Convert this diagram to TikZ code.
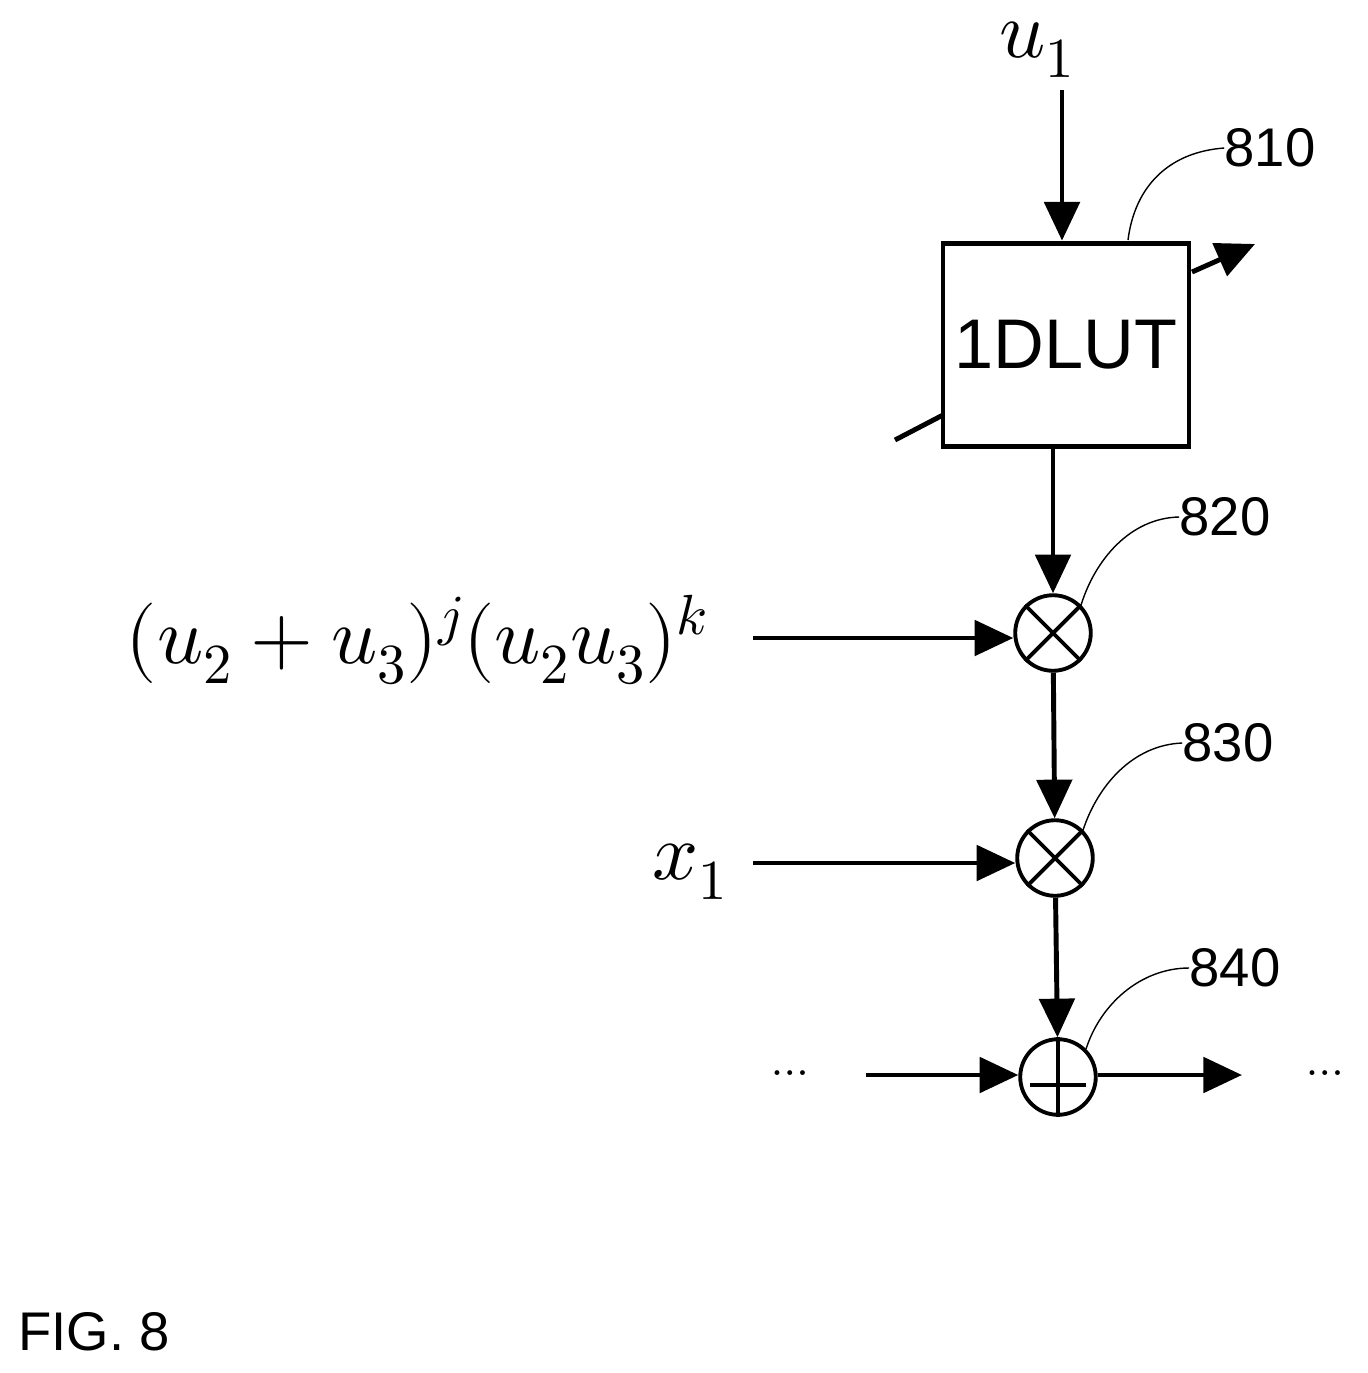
\documentclass[tikz,border=0pt]{standalone}
\usepackage{fontspec}
\setmainfont{Liberation Sans}
\usepackage{unicode-math}
\setmathfont{Latin Modern Math}
\usetikzlibrary{arrows.meta}
\begin{document}
\begin{tikzpicture}[x=0.02cm,y=-0.02cm,
  wire/.style={line width=2.8pt,-{Triangle[length=22pt,width=20pt]}},
  plain/.style={line width=2.8pt},
  lead/.style={line width=0.8pt},
  op/.style={circle,draw,line width=2.2pt,minimum size=43pt,inner sep=0pt},
  lab/.style={font=\fontsize{31}{31}\selectfont,inner sep=0pt},
  mlab/.style={font=\fontsize{46}{46}\selectfont,inner sep=0pt}]
\useasboundingbox (0,0) rectangle (1368,1373);
\node[draw,line width=2.8pt,minimum width=140pt,minimum height=116pt,font=\fontsize{40}{40}\selectfont] (lut) at (1066,345) {1DLUT};
\node[mlab] (u1) at (1037,50) {$u_1$};
\coordinate (u1s) at (1062,90);
\draw[wire] (u1s) -- (lut.north -| u1s);
\coordinate (dl) at (895,440);
\coordinate (dlb) at (943,415);
\draw[plain] (dl) -- (dlb);
\coordinate (dr) at (1192,272);
\coordinate (drt) at (1255,244);
\draw[wire] (dr) -- (drt);
\node[op] (m1) at (1053,633) {};
\node[op] (m2) at (1055,858) {};
\node[op] (s1) at (1058,1077) {};
\foreach \c in {m1,m2}{
  \draw[line width=2.2pt] (\c.north west) -- (\c.south east);
  \draw[line width=2.2pt] (\c.north east) -- (\c.south west);}
\draw[line width=2.8pt] ([shift={(-28,8)}]s1.center) -- ([shift={(28,8)}]s1.center);
\draw[line width=2.8pt] (s1.north) -- (s1.south);
\draw[wire] (lut.south -| m1) -- (m1);
\draw[wire] (m1) -- (m2);
\draw[wire] (m2) -- (s1);
\node[mlab] (f) at (417,640) {$(u_2+u_3)^j(u_2u_3)^k$};
\coordinate (fs) at (753,638);
\draw[wire] (fs) -- (m1.west |- fs);
\node[mlab] (x1) at (690,872) {$x_1$};
\coordinate (xs) at (753,863);
\draw[wire] (xs) -- (m2.west |- xs);
\node[font=\fontsize{26}{26}\selectfont] (dots1) at (790,1078) {$\cdots$};
\node[font=\fontsize{26}{26}\selectfont] (dots2) at (1325,1078) {$\cdots$};
\coordinate (ls) at (866,1075);
\draw[wire] (ls) -- (s1.west |- ls);
\coordinate (re) at (1242,1075);
\draw[wire] (s1.east |- re) -- (re);
\node[lab] (n810) at (1270,148) {810};
\node[lab] (n820) at (1225,517) {820};
\node[lab] (n830) at (1228,743) {830};
\node[lab] (n840) at (1235,968) {840};
\coordinate (c810) at (1128,240);
\draw[lead] (c810) .. controls (1135,185) and (1170,152) .. (n810.west);
\draw[lead] (m1.north east) .. controls (1095,560) and (1130,518) .. (n820.west);
\draw[lead] (m2.north east) .. controls (1098,785) and (1133,745) .. (n830.west);
\draw[lead] (s1.north east) .. controls (1100,1005) and (1140,968) .. (n840.west);
\node[lab,anchor=west] (fig) at (18,1332) {FIG. 8};
\end{tikzpicture}
\end{document}
